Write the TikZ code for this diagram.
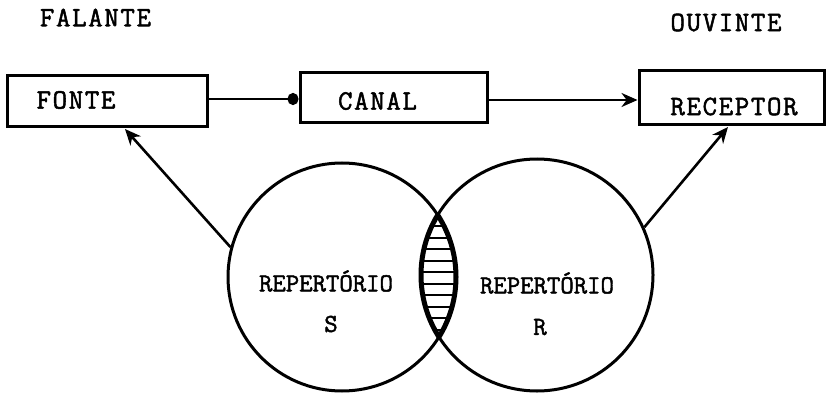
\documentclass[tikz,border=0pt]{standalone}
\usepackage{fontspec}
\newfontfamily\tw[FakeBold=1.8,LetterSpace=6]{Latin Modern Mono}
\newfontfamily\twr[FakeBold=1.8]{Latin Modern Mono}
\usetikzlibrary{arrows.meta}
\tikzset{
  boxnode/.style={draw, line width=3pt, minimum height=51pt, inner sep=0pt},
  lbl/.style={font=\tw\fontsize{28}{30}\selectfont, inner sep=0pt},
  replbl/.style={font=\twr\fontsize{26}{28}\selectfont, inner sep=0pt},
  setcirc/.style={circle, draw, line width=3pt, inner sep=0pt},
  arr/.style={line width=2.6pt, -{Stealth[length=16pt,width=14pt]}},
  dotarr/.style={line width=2.6pt, -{Circle[length=11pt,width=12pt]}},
  hatch/.style={line width=2pt}
}
\begin{document}
\begin{tikzpicture}[x=1pt,y=-1pt]
\useasboundingbox (0,0) rectangle (827,393);
% headers
\node[lbl] (falante) at (95.5,17.5) {FALANTE};
\node[lbl] (ouvinte) at (726,22.5) {OUVINTE};
% boxes
\node[boxnode, minimum width=200pt, minimum height=51pt] (fonte) at (107,101.5) {};
\node[lbl] (fontet) at (76,100) {FONTE};
\node[boxnode, minimum width=187pt, minimum height=50pt] (canal) at (393.5,98) {};
\node[lbl] (canalt) at (377.5,101) {CANAL};
\node[boxnode, minimum width=185pt, minimum height=54pt] (receptor) at (731.5,98) {};
\node[lbl] (receptort) at (734,106.5) {RECEPTOR};
% connectors between boxes
\draw[dotarr] (fonte.east |- 0,99) -- (canal.west |- 0,99);
\draw[arr] (canal.east |- 0,100) -- (receptor.west |- 0,100);
% circles
\node[setcirc, minimum size=228pt] (S) at (342,277) {};
\node[setcirc, minimum size=232pt] (R) at (537,275) {};
% hatched intersection
\begin{scope}
  \clip (342,277) circle[radius=114pt];
  \clip (537,275) circle[radius=116pt];
  \foreach \yy in {226,237.5,249,260.5,272,283.5,295,306.5,318,329.5}
    \draw[hatch] (400,\yy) -- (480,\yy);
\end{scope}
% thicker lens outline
\begin{scope}
  \clip (342,277) circle[radius=114pt];
  \draw[line width=5pt] (537,275) circle[radius=116pt];
\end{scope}
\begin{scope}
  \clip (537,275) circle[radius=116pt];
  \draw[line width=5pt] (342,277) circle[radius=114pt];
\end{scope}
% labels in circles
\node[replbl] (repS) at (326,281) {REPERTÓRIO};
\node[replbl] (sS) at (331,324) {S};
\node[replbl] (repR) at (547,283) {REPERTÓRIO};
\node[replbl] (sR) at (540,327) {R};
% arrows from circles to boxes
\coordinate (tipL) at (125,129);
\coordinate (tipR) at (728,127);
\draw[arr] (S.165) -- (tipL);
\draw[arr] (R.24) -- (tipR);
\end{tikzpicture}
\end{document}
